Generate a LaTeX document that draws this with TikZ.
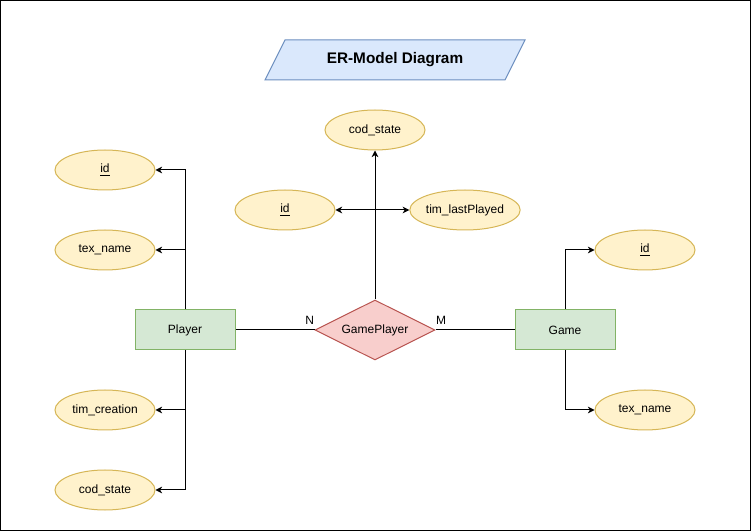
\documentclass[tikz,border=0pt]{standalone}
\usepackage{fontspec}
\setmainfont{Liberation Sans}
\usetikzlibrary{shapes.geometric,arrows.meta}
\definecolor{attrfill}{HTML}{FFF2CC}
\definecolor{attrline}{HTML}{D6B656}
\definecolor{entfill}{HTML}{D5E8D4}
\definecolor{entline}{HTML}{82B366}
\definecolor{relfill}{HTML}{F8CECC}
\definecolor{relline}{HTML}{B85450}
\definecolor{titlefill}{HTML}{DAE8FC}
\definecolor{titleline}{HTML}{6C8EBF}
\begin{document}
\begin{tikzpicture}[x=0.75pt,y=-0.75pt,line width=0.75pt,font=\fontsize{9}{11}\selectfont,
    attr/.style={ellipse,draw=attrline,fill=attrfill,minimum width=75pt,minimum height=30pt,inner sep=0pt},
    entity/.style={rectangle,draw=entline,fill=entfill,minimum width=75pt,minimum height=30pt,inner sep=0pt},
    relation/.style={diamond,aspect=2,draw=relline,fill=relfill,minimum width=90pt,minimum height=45pt,inner sep=0pt},
    link/.style={-{Stealth[length=5pt,width=5pt,inset=1.5pt]}}]
    \useasboundingbox (0,0) rectangle (751,531);
    \draw (0.5,0.5) rectangle (750.5,530.5);

    % title
    \draw[titleline,fill=titlefill] (285,40) -- (525,40) -- (505,80) -- (265,80) -- cycle;
    \node (title) at (395,60) {\fontsize{11.5}{13}\selectfont\bfseries ER-Model Diagram};

    % entities and relation
    \node[entity] (player) at (185,330) {Player};
    \node[entity] (game) at (565,330) {Game};
    \node[relation] (gameplayer) at (375,330) {GamePlayer};

    % attributes
    \node[attr] (pid) at (105,170) {\underline{id}};
    \node[attr] (pname) at (105,250) {tex\_name};
    \node[attr] (pcreation) at (105,410) {tim\_creation};
    \node[attr] (pstate) at (105,490) {cod\_state};
    \node[attr] (gid) at (645,250) {\underline{id}};
    \node[attr] (gname) at (645,410) {tex\_name};
    \node[attr] (rstate) at (375,130) {cod\_state};
    \node[attr] (rid) at (285,210) {\underline{id}};
    \node[attr] (rlast) at (465,210) {tim\_lastPlayed};

    % connectors
    \draw (player.east) -- (gameplayer.west) node[anchor=south east,inner sep=0pt,yshift=3.5pt] {N};
    \draw (game.west) -- (gameplayer.east) node[anchor=south west,inner sep=0pt,yshift=3.5pt] {M};
    \draw[link] (gameplayer.north) -- (rstate.south);
    \draw[link] (375,210) -- (rid.east);
    \draw[link] (375,210) -- (rlast.west);

    \draw[link] (player.north) |- (pid.east);
    \draw[link] (player.north) |- (pname.east);
    \draw[link] (player.south) |- (pcreation.east);
    \draw[link] (player.south) |- (pstate.east);
    \draw[link] (game.north) |- (gid.west);
    \draw[link] (game.south) |- (gname.west);
\end{tikzpicture}
\end{document}
